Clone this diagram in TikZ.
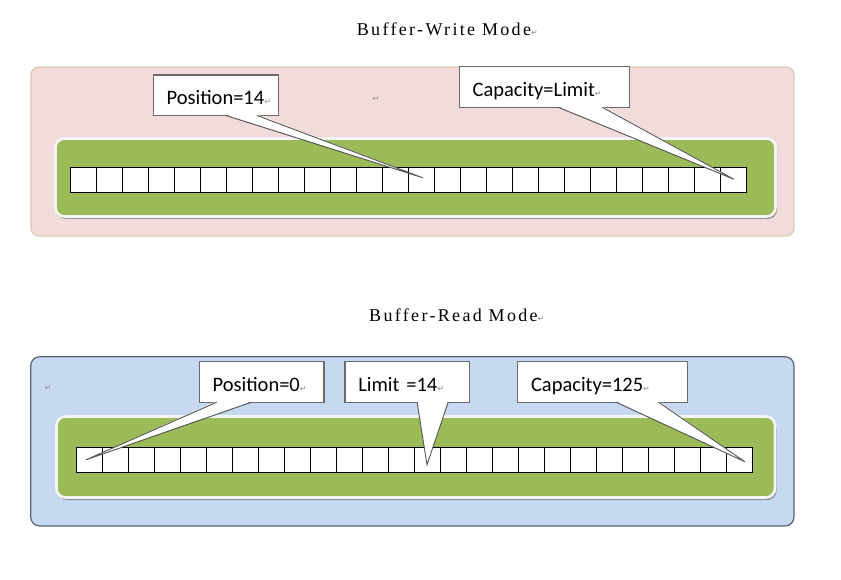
\documentclass[tikz,border=0pt]{standalone}
\usepackage{fontspec}
\setmainfont{Carlito}
\newfontfamily\titlefont[LetterSpace=13]{Liberation Serif}
\newfontfamily\markfont{DejaVu Sans}
\usetikzlibrary{calc,shadows}

\definecolor{panelpink}{HTML}{F2DCDB}
\definecolor{pinkedge}{HTML}{D8CAAE}
\definecolor{panelblue}{HTML}{C6D9F1}
\definecolor{blueedge}{HTML}{5B6572}
\definecolor{bargreen}{HTML}{9BBB59}
\definecolor{calledge}{HTML}{6B6B6B}

\newcommand{\pmark}{{\markfont\color{black!45}\fontsize{8}{8}\selectfont ↵}}

\tikzset{
  cell/.style={draw=black, fill=white, line width=0.8pt, minimum width=26pt,
    minimum height=25pt, inner sep=0pt, outer sep=0pt},
  callbox/.style={draw=calledge, fill=white, line width=1.1pt, inner xsep=13.3pt,
    inner ysep=0pt, outer sep=0pt, text height=29.5pt, text depth=11pt,
    align=left, anchor=north west, font=\fontsize{20.5}{24}\selectfont},
  tail/.style={draw=calledge!80!black, line width=0.9pt, line join=miter},
  bar/.style={rounded corners=9pt, fill=bargreen, draw=white!96!black, line width=2.6pt,
    drop shadow={shadow xshift=1.5pt, shadow yshift=-2.5pt, opacity=0.5, fill=black!70}},
  title/.style={font=\titlefont\fontsize{18}{21}\selectfont, anchor=base west, inner sep=0pt},
}

\begin{document}
\begin{tikzpicture}[x=1pt,y=-1pt]
    \useasboundingbox (0,0) rectangle (841,580);

    % titles
    \node[title] (wt) at (356.7,36) {Buffer-Write Mode\pmark};
    \node[title] (rt) at (369,321.7) {Buffer-Read Mode\pmark};

    % panels
    \draw[rounded corners=8pt, fill=panelpink, draw=pinkedge, line width=1.2pt] (31,67) rectangle (794,236);
    \draw[rounded corners=9pt, fill=panelblue, draw=blueedge, line width=1.2pt] (30.7,356.7) rectangle (794,526);
    \path[bar] (55.5,138.5) rectangle (775.5,216.5);
    \path[bar] (56.5,416.5) rectangle (775,497.5);

    \node[inner sep=0pt] (m1) at (376,99) {\pmark};
    \node[inner sep=0pt] (m2) at (48.3,388.3) {\pmark};

    % buffer cells
    \foreach \i in {1,...,26} {
        \node[cell] (w\i) at ({57+26*\i},179.8) {};
        \node[cell] (r\i) at ({63+26*\i},459.8) {};
    }

    % labels
    \node[callbox, text width=98.4pt] (pw) at (153.3,75) {Position=14\pmark};
    \node[callbox, text width=143.4pt] (cw) at (459.3,66.7) {Capacity=Limit\pmark};
    \node[callbox, text width=98.1pt] (pr) at (199.3,361.7) {Position=0\pmark};
    \node[callbox, text width=97.7pt] (lr) at (345,361.7) {Limit =14\pmark};
    \node[callbox, text width=143pt] (cr) at (517.7,361.7) {Capacity=125\pmark};

    % pointer tips
    \coordinate (t1) at ([xshift=2pt,yshift=2pt]w14.center);
    \coordinate (t2) at ([xshift=1pt,yshift=0.5pt]w26.center);
    \coordinate (t3) at ([xshift=-3pt]r1.center);
    \coordinate (t4) at ([yshift=-5pt]r14.center);
    \coordinate (t5) at ([xshift=6pt,yshift=-2pt]r26.center);

    \foreach \bx/\fa/\fb/\tp in {pw/0.58/0.83/t1, cw/0.58/0.84/t2, pr/0.14/0.42/t3,
                                 lr/0.58/0.83/t4, cr/0.58/0.83/t5} {
        \coordinate (a) at ($(\bx.south west)!\fa!(\bx.south east)$);
        \coordinate (b) at ($(\bx.south west)!\fb!(\bx.south east)$);
        \fill[white] ([yshift=1pt]a) -- (\tp) -- ([yshift=1pt]b) -- cycle;
        \draw[tail] (a) -- (\tp) -- (b);
    }
\end{tikzpicture}
\end{document}
